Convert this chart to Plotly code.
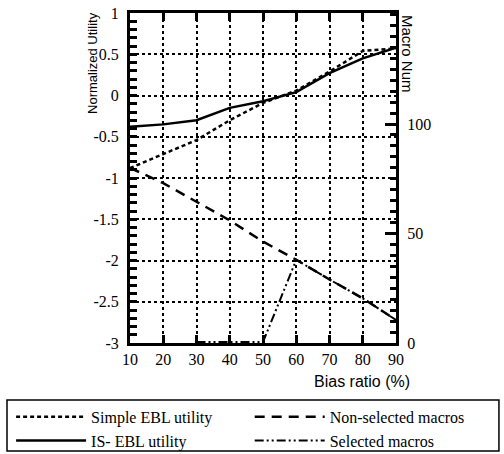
import plotly.graph_objects as go

bias = [10, 20, 30, 40, 50, 60, 70, 80, 90]
simple_ebl = [-0.88, -0.71, -0.54, -0.30, -0.09, 0.06, 0.29, 0.54, 0.57]
is_ebl = [-0.38, -0.35, -0.30, -0.15, -0.07, 0.04, 0.27, 0.45, 0.58]
non_selected = [80, 73, 64.5, 56, 46.3, 38, 29, 20.4, 10.5]
sel_bias = [30, 40, 50, 60, 70, 80, 90]
selected = [0.4, 0.4, 0.4, 38, 29, 20.4, 10.5]

util_ticks = [1, 0.5, 0, -0.5, -1, -1.5, -2, -2.5, -3]
util_labels = ["1", "0.5", "0", "-0.5", "-1", "-1.5", "-2", "-2.5", "-3"]
macro_ticks = [0, 50, 100]

serif = "Liberation Serif"
sans = "Liberation Sans"

fig = go.Figure()
fig.add_trace(go.Scatter(x=bias, y=simple_ebl, mode="lines", name="Simple EBL utility", legend="legend",
                         line=dict(color="black", width=2.5, dash="4px,3px")))
fig.add_trace(go.Scatter(x=bias, y=is_ebl, mode="lines", name="IS- EBL utility", legend="legend",
                         line=dict(color="black", width=2.5)))
fig.add_trace(go.Scatter(x=bias, y=non_selected, mode="lines", name="Non-selected macros", yaxis="y2",
                         legend="legend2", line=dict(color="black", width=2.5, dash="10px,7px")))
fig.add_trace(go.Scatter(x=sel_bias, y=selected, mode="lines", name="Selected macros", yaxis="y2",
                         legend="legend2",
                         line=dict(color="black", width=2, dash="9px,3px,2px,3px,2px,3px")))

legfont = dict(family=serif, size=16, color="black")
fig.update_layout(
    width=504, height=454,
    margin=dict(l=130, r=108, t=13, b=111, autoexpand=False),
    paper_bgcolor="white", plot_bgcolor="white",
    showlegend=True,
    legend=dict(x=-0.447, xanchor="left", y=-0.172, yanchor="top", itemwidth=70,
                bgcolor="rgba(0,0,0,0)", borderwidth=0, font=legfont, tracegroupgap=0),
    legend2=dict(x=0.45, xanchor="left", y=-0.172, yanchor="top", itemwidth=70,
                 bgcolor="rgba(0,0,0,0)", borderwidth=0, font=legfont, tracegroupgap=0),
    xaxis=dict(range=[10, 90], dtick=10, tick0=10, showgrid=True, gridcolor="black",
               griddash="dot", gridwidth=1.5, showline=True, linecolor="black", linewidth=3,
               mirror="ticks", ticks="inside", ticklen=8, tickwidth=2.5, tickcolor="black",
               tickfont=dict(family=serif, size=16, color="black"), zeroline=False,
               automargin=False),
    yaxis=dict(range=[-3, 1], tickmode="array", tickvals=util_ticks, ticktext=util_labels,
               showgrid=True, gridcolor="black", griddash="dot",
               gridwidth=1.5, showline=True, linecolor="black", linewidth=3, ticks="inside",
               ticklen=7, tickwidth=2.5, tickcolor="black", zeroline=False, automargin=False,
               ticklabelstandoff=5,
               tickfont=dict(family=serif, size=16, color="black"),
               minor=dict(tickmode="linear", tick0=-3, dtick=0.1, ticks="inside", ticklen=7,
                          tickwidth=2.5, tickcolor="black", showgrid=False)),
    yaxis2=dict(range=[0, 150.7], overlaying="y", side="right", tickmode="array",
                tickvals=macro_ticks, showgrid=False, showline=True, linecolor="black",
                linewidth=3, ticks="inside", ticklen=11, tickwidth=2.5, tickcolor="black",
                zeroline=False, automargin=False, ticklabelstandoff=5,
                tickfont=dict(family=serif, size=16, color="black"),
                minor=dict(tickmode="linear", tick0=0, dtick=5, ticks="inside", ticklen=6,
                           tickwidth=2.5, tickcolor="black", showgrid=False)),
    shapes=[
        dict(type="rect", xref="paper", yref="paper", x0=-0.4624, x1=1.387, y0=-0.327,
             y1=-0.1727, line=dict(color="black", width=1.5), fillcolor="rgba(0,0,0,0)"),
    ],
    annotations=[
        dict(text="Normalized Utility", xref="paper", yref="paper", x=-0.143, y=1.009,
             xanchor="center", yanchor="top", textangle=-90, showarrow=False,
             font=dict(family=sans, size=13, color="black")),
        dict(text="Macro Num", xref="paper", yref="paper", x=1.045, y=1.0,
             xanchor="center", yanchor="top", textangle=90, showarrow=False,
             font=dict(family=sans, size=15, color="black")),
        dict(text="Bias ratio (%)", xref="paper", yref="paper", x=1.06, y=-0.085,
             xanchor="right", yanchor="top", showarrow=False,
             font=dict(family=sans, size=16, color="black")),
    ],
)

fig.write_html("out.html", config={"displayModeBar": False},
               post_script="document.body.style.margin='0';")
